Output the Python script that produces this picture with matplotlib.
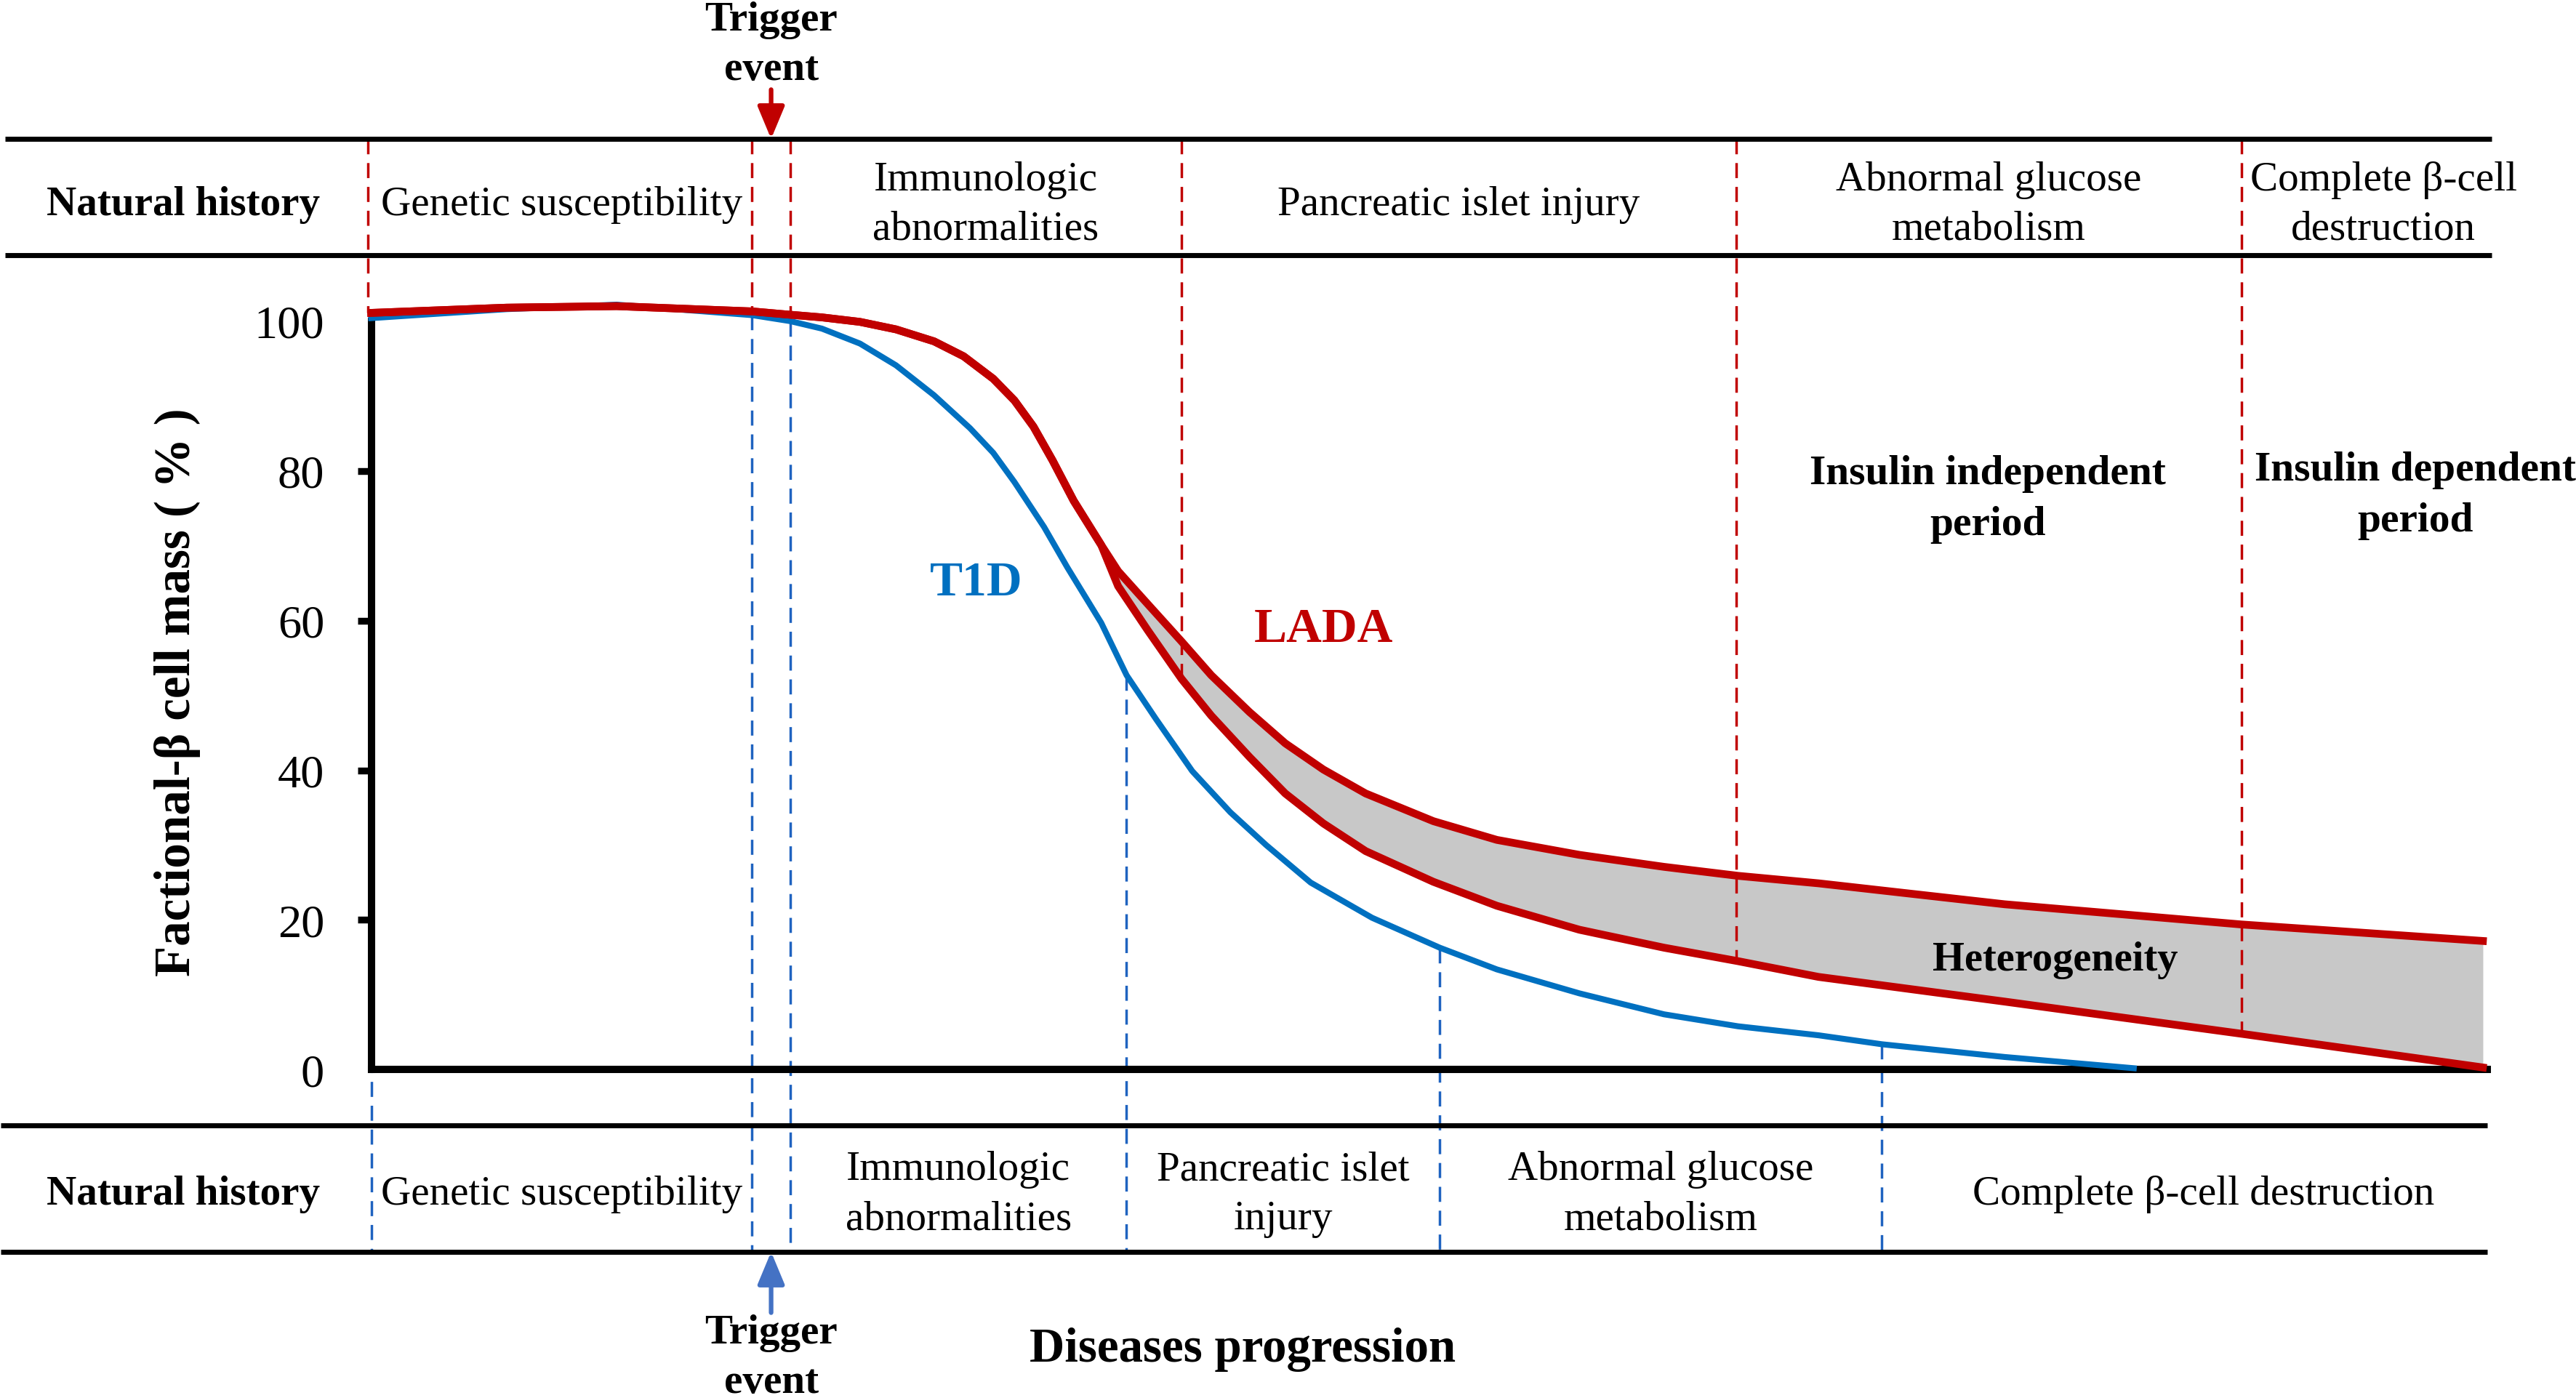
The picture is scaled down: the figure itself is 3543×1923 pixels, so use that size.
import numpy as np
import matplotlib.pyplot as plt
from matplotlib.transforms import blended_transform_factory

plt.rcParams['font.family'] = ['Liberation Serif', 'DejaVu Serif']

# disease progression (arbitrary units 0-100) vs fractional beta-cell mass (%)
t1d_x = [0, 6.4, 11.6, 18.0, 19.8, 21.3, 23.1, 24.8, 26.6, 28.3, 29.4, 30.4, 31.8,
         32.9, 34.5, 35.7, 37.1, 38.8, 40.6, 42.3, 44.4, 47.3, 50.5, 53.2, 57.1,
         61.1, 64.6, 68.4, 71.4, 77.2, 83.3]
t1d_y = [100.4, 101.6, 102.2, 100.8, 100.0, 99.0, 97.0, 94.1, 90.1, 85.7, 82.4, 78.5,
         72.5, 67.1, 59.7, 52.7, 46.8, 39.9, 34.4, 30.0, 25.0, 20.3, 16.3, 13.4, 10.2,
         7.4, 5.8, 4.6, 3.4, 1.7, 0.2]

# LADA: common part, then upper / lower bounds of the heterogeneity band
lada_x = [0, 6.4, 11.6, 18.0, 19.6, 21.3, 23.1, 24.8, 26.6, 28.0, 29.4, 30.4, 31.3,
          32.2, 33.2, 34.5]
lada_y = [101.1, 101.8, 102.0, 101.3, 100.9, 100.5, 99.9, 98.9, 97.3, 95.3, 92.3, 89.4,
          85.9, 81.4, 76.0, 70.1]
split_x = [34.5, 35.3, 36.7, 38.3, 39.7, 41.5, 43.2, 45.0, 47.0, 50.2, 53.2, 57.1,
           61.1, 64.6, 68.4, 77.2, 88.4, 99.8]
lada_hi = [70.1, 66.6, 62.2, 57.2, 52.7, 47.8, 43.6, 40.1, 36.9, 33.2, 30.7, 28.7,
           27.1, 25.9, 24.9, 22.1, 19.4, 17.2]
lada_lo = [70.1, 64.6, 58.7, 52.2, 47.3, 41.8, 36.9, 32.9, 29.2, 25.1, 21.9, 18.7,
           16.3, 14.5, 12.4, 9.1, 4.8, 0.3]

# stage boundaries (trigger event = between 2nd and 3rd)
lada_stage_x = [-0.15, 18.0, 19.8, 38.3, 64.5, 88.4]
t1d_stage_x = [0, 18.0, 19.8, 35.7, 50.5, 71.4]
lada_stages = ['Genetic susceptibility', 'Immunologic\nabnormalities',
               'Pancreatic islet injury', 'Abnormal glucose\nmetabolism',
               'Complete β-cell\ndestruction']
t1d_stages = ['Genetic susceptibility', 'Immunologic\nabnormalities',
              'Pancreatic islet\ninjury', 'Abnormal glucose\nmetabolism',
              'Complete β-cell destruction']
yticks = [0, 20, 40, 60, 80, 100]

RED = '#C00000'
BLUE = '#0070C0'
BLUE_D = '#1F63C0'
FS = 18.2

fig = plt.figure(figsize=(3543 / 226, 1924 / 226), dpi=226)
ax = fig.add_axes([0.1441, 0.2347, 0.8214, 0.5352])
ax.set_xlim(0, 100)
ax.set_ylim(0, 100)
for s in ['top', 'right']:
    ax.spines[s].set_visible(False)
for s in ['left', 'bottom']:
    ax.spines[s].set_linewidth(3.2)
ax.set_xticks([])
ax.set_yticks(yticks)
ax.set_yticklabels([str(v) for v in yticks], fontsize=20.5)
ax.tick_params(axis='y', length=6, width=3, pad=14.5, direction='out')
ytk = ax.yaxis.get_major_ticks()
ytk[0].tick1line.set_visible(False)
ytk[-1].tick1line.set_visible(False)

fig.text(0.069, 0.505, 'Factional-β cell mass ( % )', rotation=90,
         ha='center', va='center', fontsize=22, fontweight='bold')

def fy(yf):
    # figure fraction -> data y
    return ax.transData.inverted().transform(fig.transFigure.transform((0, yf)))[1]

top_hi, top_lo = 0.9002, 0.8169
bot_hi, bot_lo = 0.1948, 0.1045
for yf in (top_hi, top_lo):
    ax.plot([-17.3, 100.2], [fy(yf)] * 2, color='k', lw=2.2, clip_on=False,
            solid_capstyle='butt')
for yf in (bot_hi, bot_lo):
    ax.plot([-17.5, 100.0], [fy(yf)] * 2, color='k', lw=2.2, clip_on=False,
            solid_capstyle='butt')

lada_lo_x = lada_x + split_x[1:]
lada_lo_y = lada_y + lada_lo[1:]
lada_hi_y = lada_y + lada_hi[1:]

# stage dividers
for x in lada_stage_x:
    ax.plot([x, x], [fy(top_hi), np.interp(x, lada_lo_x, lada_lo_y)], color=RED,
            lw=1.1, dashes=(6, 3.5), clip_on=False, zorder=1.5)
for x in t1d_stage_x:
    ax.plot([x, x], [np.interp(x, t1d_x, t1d_y), fy(bot_lo)], color=BLUE_D,
            lw=1.1, dashes=(6, 3.5), clip_on=False, zorder=1.5)

# curves
ax.fill_between(split_x, lada_lo, lada_hi, color='#C8C8C8', lw=0, zorder=1)
ax.plot(t1d_x, t1d_y, color=BLUE, lw=2.6, clip_on=False, zorder=3,
        solid_joinstyle='round')
ax.plot(lada_lo_x, lada_hi_y, color=RED, lw=3.4, clip_on=False, zorder=4,
        solid_joinstyle='round')
ax.plot(lada_lo_x, lada_lo_y, color=RED, lw=3.4, clip_on=False, zorder=4,
        solid_joinstyle='round')

ax.text(28.6, 65.1, 'T1D', color=BLUE, fontsize=21.5, fontweight='bold',
        ha='center', va='center')
ax.text(45.0, 58.8, 'LADA', color=RED, fontsize=21.5, fontweight='bold',
        ha='center', va='center')
ax.text(76.4, 76.3, 'Insulin independent\nperiod', fontsize=18.3, fontweight='bold',
        ha='center', va='center', linespacing=1.45)
ax.text(96.6, 76.8, 'Insulin dependent\nperiod', fontsize=18.3, fontweight='bold',
        ha='center', va='center', linespacing=1.45)
ax.text(79.6, 14.7, 'Heterogeneity', fontsize=18, fontweight='bold',
        ha='center', va='center')

# natural history bands
tr = blended_transform_factory(ax.transData, fig.transFigure)
band_end = 101.8
for stages, xs, yc in ((lada_stages, lada_stage_x, 0.8535),
                       (t1d_stages, t1d_stage_x, 0.146)):
    ax.text(-8.9, yc, 'Natural history', transform=tr, fontsize=FS,
            fontweight='bold', ha='center', va='center')
    edges = [0] + list(xs[1:]) + [band_end]
    for i, lab in enumerate(stages):
        if i == 0:
            lo, hi = edges[0], edges[1]
        else:
            lo, hi = edges[i + 1], edges[i + 2]
        ax.text((lo + hi) / 2, yc, lab, transform=tr, fontsize=FS,
                ha='center', va='center', linespacing=1.4)

# trigger events
trig_x = (lada_stage_x[1] + lada_stage_x[2]) / 2
ax.text(trig_x, 0.968, 'Trigger\nevent', transform=tr, fontsize=FS,
        fontweight='bold', ha='center', va='center', linespacing=1.4)
ax.annotate('', xy=(trig_x, top_hi), xytext=(trig_x, 0.9354), xycoords=tr,
            textcoords=tr, annotation_clip=False,
            arrowprops=dict(arrowstyle='-|>,head_length=0.6,head_width=0.25',
                            color=RED, lw=2, mutation_scale=20,
                            shrinkA=0, shrinkB=0))
ax.text(trig_x, 0.0293, 'Trigger\nevent', transform=tr, fontsize=FS,
        fontweight='bold', ha='center', va='center', linespacing=1.4)
ax.annotate('', xy=(trig_x, bot_lo), xytext=(trig_x, 0.061), xycoords=tr,
            textcoords=tr, annotation_clip=False,
            arrowprops=dict(arrowstyle='-|>,head_length=0.6,head_width=0.25',
                            color='#4472C4', lw=2, mutation_scale=20,
                            shrinkA=0, shrinkB=0))

ax.text(41.2, 0.0352, 'Diseases progression', transform=tr, fontsize=21.3,
        fontweight='bold', ha='center', va='center')

fig.savefig('out.png', dpi=226)
